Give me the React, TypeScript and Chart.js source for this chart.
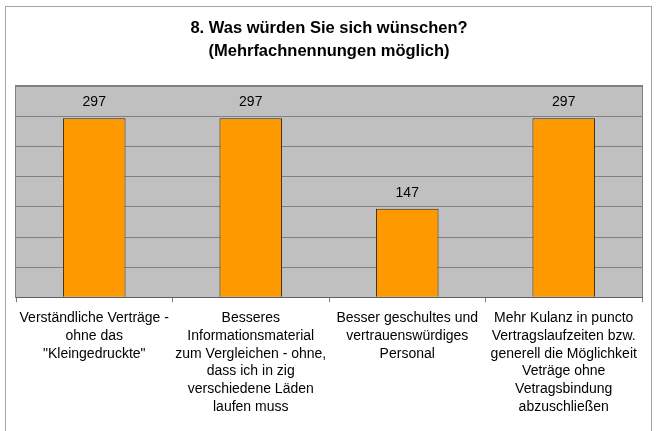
import React, { useEffect, useRef } from "react";
import { Chart, registerables } from "chart.js";

Chart.register(...registerables);

// Survey question 8: wishes of the respondents (multiple answers allowed)
const titleLines = ["8. Was würden Sie sich wünschen?", "(Mehrfachnennungen möglich)"];

const categories: string[][] = [
  ["Verständliche Verträge -", "ohne das", "\"Kleingedruckte\""],
  [
    "Besseres",
    "Informationsmaterial",
    "zum Vergleichen - ohne,",
    "dass ich in zig",
    "verschiedene Läden",
    "laufen muss",
  ],
  ["Besser geschultes und", "vertrauenswürdiges", "Personal"],
  [
    "Mehr Kulanz in puncto",
    "Vertragslaufzeiten bzw.",
    "generell die Möglichkeit",
    "Veträge ohne",
    "Vetragsbindung",
    "abzuschließen",
  ],
];

const answers: number[] = [297, 297, 147, 297];

const yMin = 0;
const yMax = 350;
const yStep = 50;

const FONT = "'Liberation Sans', Arial, Helvetica, sans-serif";

// Grey plot background, plot frame and the outer chart frame
const framePlugin = {
  id: "frames",
  beforeDraw(chart: any) {
    const { ctx, chartArea } = chart;
    ctx.save();
    ctx.fillStyle = "#ffffff";
    ctx.fillRect(0, 0, chart.width, chart.height);
    ctx.strokeStyle = "#a6a6a6";
    ctx.lineWidth = 1;
    ctx.strokeRect(5.5, 6.5, 646, 440);
    ctx.fillStyle = "#c0c0c0";
    ctx.fillRect(
      chartArea.left,
      chartArea.top,
      chartArea.right - chartArea.left,
      chartArea.bottom - chartArea.top
    );
    ctx.strokeStyle = "#808080";
    ctx.strokeRect(
      Math.round(chartArea.left) - 0.5,
      Math.round(chartArea.top) - 0.5,
      Math.round(chartArea.right - chartArea.left) + 1,
      Math.round(chartArea.bottom - chartArea.top) + 1
    );
    ctx.restore();
  },
};

// Value labels above each bar
const valueLabelPlugin = {
  id: "valueLabels",
  afterDatasetsDraw(chart: any) {
    const { ctx } = chart;
    const meta = chart.getDatasetMeta(0);
    const values = chart.data.datasets[0].data as number[];
    ctx.save();
    ctx.fillStyle = "#000000";
    ctx.font = `14px ${FONT}`;
    ctx.textAlign = "center";
    ctx.textBaseline = "middle";
    meta.data.forEach((bar: any, i: number) => {
      ctx.fillText(String(values[i]), bar.x, bar.y - 16);
    });
    ctx.restore();
  },
};

export default function App() {
  const canvasRef = useRef<HTMLCanvasElement | null>(null);

  useEffect(() => {
    if (!canvasRef.current) return;
    const chart = new Chart(canvasRef.current, {
      type: "bar",
      data: {
        labels: categories,
        datasets: [
          {
            data: answers,
            backgroundColor: "#ff9900",
            borderColor: "#3a2a10",
            borderWidth: 1,
            barPercentage: 0.4,
            categoryPercentage: 1,
          },
        ],
      },
      options: {
        responsive: false,
        animation: false,
        devicePixelRatio: 1,
        layout: { padding: { left: 16, right: 19, top: 0, bottom: 8 } },
        plugins: {
          legend: { display: false },
          tooltip: { enabled: false },
          title: {
            display: true,
            text: titleLines,
            color: "#000000",
            font: { family: FONT, size: 16.5, weight: "bold", lineHeight: 1.4 },
            padding: { top: 17, bottom: 23 },
          },
        },
        scales: {
          x: {
            offset: true,
            grid: {
              display: true,
              offset: true,
              drawOnChartArea: false,
              drawTicks: true,
              tickLength: 5,
              color: "#808080",
            },
            border: { display: true, color: "#606060", width: 1 },
            ticks: {
              color: "#000000",
              font: { family: FONT, size: 14, lineHeight: 1.27 },
              padding: 7,
              maxRotation: 0,
              minRotation: 0,
              autoSkip: false,
            },
          },
          y: {
            min: yMin,
            max: yMax,
            ticks: { display: false, stepSize: yStep },
            grid: { color: "#808080", drawTicks: false, lineWidth: 1 },
            border: { display: false },
          },
        },
      },
      plugins: [framePlugin, valueLabelPlugin],
    });
    return () => chart.destroy();
  }, []);

  return (
    <div style={{ position: "absolute", left: 0, top: 0, width: 661, height: 431 }}>
      <canvas ref={canvasRef} width={661} height={431} />
    </div>
  );
}
